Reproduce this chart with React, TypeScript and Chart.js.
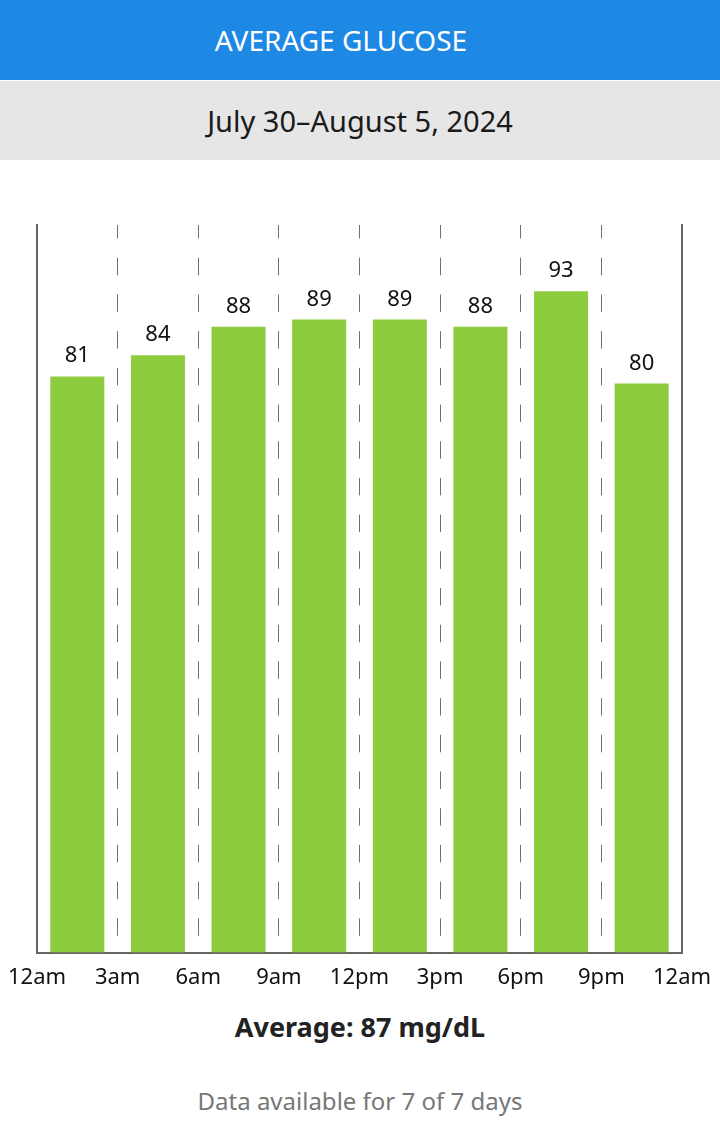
import React, { useEffect, useRef } from "react";
import { Chart, registerables } from "chart.js";

Chart.register(...registerables);

const title = "AVERAGE GLUCOSE";
const dateRange = "July 30–August 5, 2024";
const categories = ["12am-3am", "3am-6am", "6am-9am", "9am-12pm", "12pm-3pm", "3pm-6pm", "6pm-9pm", "9pm-12am"];
const values = [81, 84, 88, 89, 89, 88, 93, 80];
const tickLabels = ["12am", "3am", "6am", "9am", "12pm", "3pm", "6pm", "9pm", "12am"];
const averageText = "Average: 87 mg/dL";
const footnote = "Data available for 7 of 7 days";

const FONT = "'Noto Sans', 'Open Sans', sans-serif";
const AXIS_COLOR = "#666666";
const BAR_COLOR = "#8DCB3F";

const valueLabelPlugin = {
  id: "valueLabels",
  afterDatasetsDraw(chart: any) {
    const ctx = chart.ctx;
    const meta = chart.getDatasetMeta(0);
    ctx.save();
    ctx.font = `22px ${FONT}`;
    ctx.fillStyle = "#111111";
    ctx.textAlign = "center";
    ctx.textBaseline = "alphabetic";
    meta.data.forEach((el: any, i: number) => {
      const v = chart.data.datasets[0].data[i];
      ctx.fillText(String(v), el.x, el.y - 14);
    });
    ctx.restore();
  },
};

function GlucoseChart() {
  const ref = useRef<HTMLCanvasElement | null>(null);
  useEffect(() => {
    if (!ref.current) return;
    const chart = new Chart(ref.current, {
      type: "bar",
      data: {
        labels: categories,
        datasets: [
          {
            data: values,
            backgroundColor: BAR_COLOR,
            borderWidth: 0,
            categoryPercentage: 1,
            barPercentage: 0.67,
          },
        ],
      },
      options: {
        animation: false,
        responsive: false,
        maintainAspectRatio: false,
        layout: { padding: { top: 65, left: 37, right: 38, bottom: 8 } },
        plugins: { legend: { display: false }, tooltip: { enabled: false }, title: { display: false } },
        scales: {
          x: { type: "category", display: false },
          x2: {
            type: "linear",
            position: "bottom",
            min: 0,
            max: 8,
            offset: false,
            grid: {
              display: true,
              offset: false,
              drawTicks: true,
              tickLength: 12,
              tickColor: "rgba(0,0,0,0)",
              drawOnChartArea: true,
              lineWidth: 1,
              color: (c: any) =>
                c.tick && (c.tick.value === 0 || c.tick.value === 8) ? "rgba(0,0,0,0)" : "#707070",
            },
            border: { display: true, color: AXIS_COLOR, width: 2, dash: [17.5, 19.2], dashOffset: 4 },
            ticks: {
              stepSize: 1,
              autoSkip: false,
              maxRotation: 0,
              padding: 0,
              color: "#111111",
              font: { family: FONT, size: 22 },
              callback: (v: any) => tickLabels[Math.round(Number(v))] ?? "",
            },
          },
          y: {
            type: "linear",
            position: "left",
            min: 0,
            max: 102.3,
            grid: { display: false, drawTicks: false },
            ticks: { display: false },
            border: { display: true, color: AXIS_COLOR, width: 2 },
          },
          y2: {
            type: "linear",
            position: "right",
            min: 0,
            max: 102.3,
            grid: { display: false, drawTicks: false },
            ticks: { display: false },
            border: { display: true, color: AXIS_COLOR, width: 2 },
          },
        },
      },
      plugins: [valueLabelPlugin],
    } as any);
    return () => chart.destroy();
  }, []);
  return <canvas ref={ref} width={720} height={839} style={{ display: "block", width: 720, height: 839 }} />;
}

export default function App() {
  return (
    <div
      style={{
        position: "absolute",
        left: 0,
        top: 0,
        width: 720,
        height: 1136,
        background: "#ffffff",
        fontFamily: FONT,
        overflow: "hidden",
      }}
    >
      <div
        style={{
          position: "absolute",
          left: 0,
          top: 0,
          width: 720,
          height: 80,
          background: "#1E88E5",
          color: "#ffffff",
          display: "flex",
          alignItems: "center",
          justifyContent: "center",
          boxSizing: "border-box",
          paddingRight: 38,
          fontSize: 28,
        }}
      >
        {title}
      </div>
      <div
        style={{
          position: "absolute",
          left: 0,
          top: 81,
          width: 720,
          height: 79,
          background: "#E6E6E6",
          color: "#1a1a1a",
          display: "flex",
          alignItems: "center",
          justifyContent: "center",
          fontSize: 29,
        }}
      >
        {dateRange}
      </div>
      <div style={{ position: "absolute", left: 0, top: 160 }}>
        <GlucoseChart />
      </div>
      <div
        style={{
          position: "absolute",
          left: 0,
          top: 1006,
          width: 720,
          height: 40,
          display: "flex",
          alignItems: "center",
          justifyContent: "center",
          fontSize: 27,
          fontWeight: 700,
          color: "#222222",
        }}
      >
        {averageText}
      </div>
      <div
        style={{
          position: "absolute",
          left: 0,
          top: 1081,
          width: 720,
          height: 38,
          display: "flex",
          alignItems: "center",
          justifyContent: "center",
          fontSize: 24,
          color: "#777777",
        }}
      >
        {footnote}
      </div>
    </div>
  );
}
